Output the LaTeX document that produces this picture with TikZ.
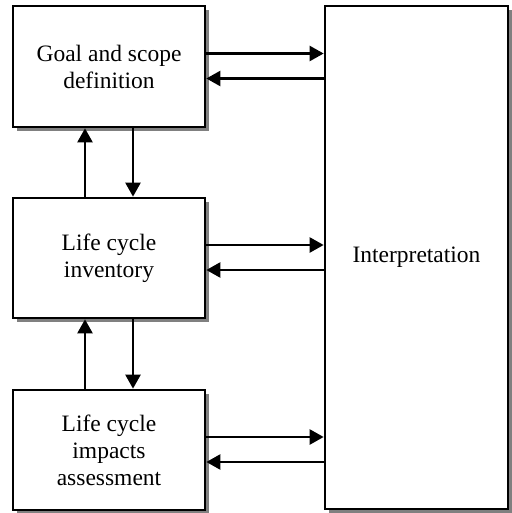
\documentclass[tikz,border=0pt]{standalone}
\usepackage{fontspec}
\setmainfont{Liberation Serif}
\usetikzlibrary{arrows.meta,shadows}
\begin{document}
\begin{tikzpicture}[x=1pt,y=-1pt,
  box/.style={draw=black,line width=2.7pt,fill=white,rectangle,inner sep=0pt,
    align=center,font=\fontsize{23.5}{27}\selectfont,
    drop shadow={shadow xshift=4pt,shadow yshift=-4pt,fill=black!50,opacity=1}},
  arr/.style={line width=2.4pt,-{Triangle[length=14pt,width=15pt]}}]
\useasboundingbox (0,0) rectangle (511,513);
\node[box,minimum width=192pt,minimum height=121pt] (top) at (109,66.5) {Goal and scope\\definition};
\node[box,minimum width=192pt,minimum height=120pt] (mid) at (109,258) {Life cycle\\inventory};
\node[box,minimum width=192pt,minimum height=120pt] (bot) at (109,450) {Life cycle\\impacts\\assessment};
\node[box,minimum width=183pt,minimum height=503pt] (right) at (416.5,257.5) {Interpretation};
\foreach \n in {top,mid,bot}{
  \draw[arr] ([yshift=13pt]\n.east) -- ([yshift=13pt]\n.east -| right.west);
  \draw[arr] ([yshift=-12pt]\n.east -| right.west) -- ([yshift=-12pt]\n.east);
}
\draw[arr] ([xshift=-24pt]mid.north) -- ([xshift=-24pt]top.south);
\draw[arr] ([xshift=24pt]top.south) -- ([xshift=24pt]mid.north);
\draw[arr] ([xshift=-24pt]bot.north) -- ([xshift=-24pt]mid.south);
\draw[arr] ([xshift=24pt]mid.south) -- ([xshift=24pt]bot.north);
\end{tikzpicture}
\end{document}
